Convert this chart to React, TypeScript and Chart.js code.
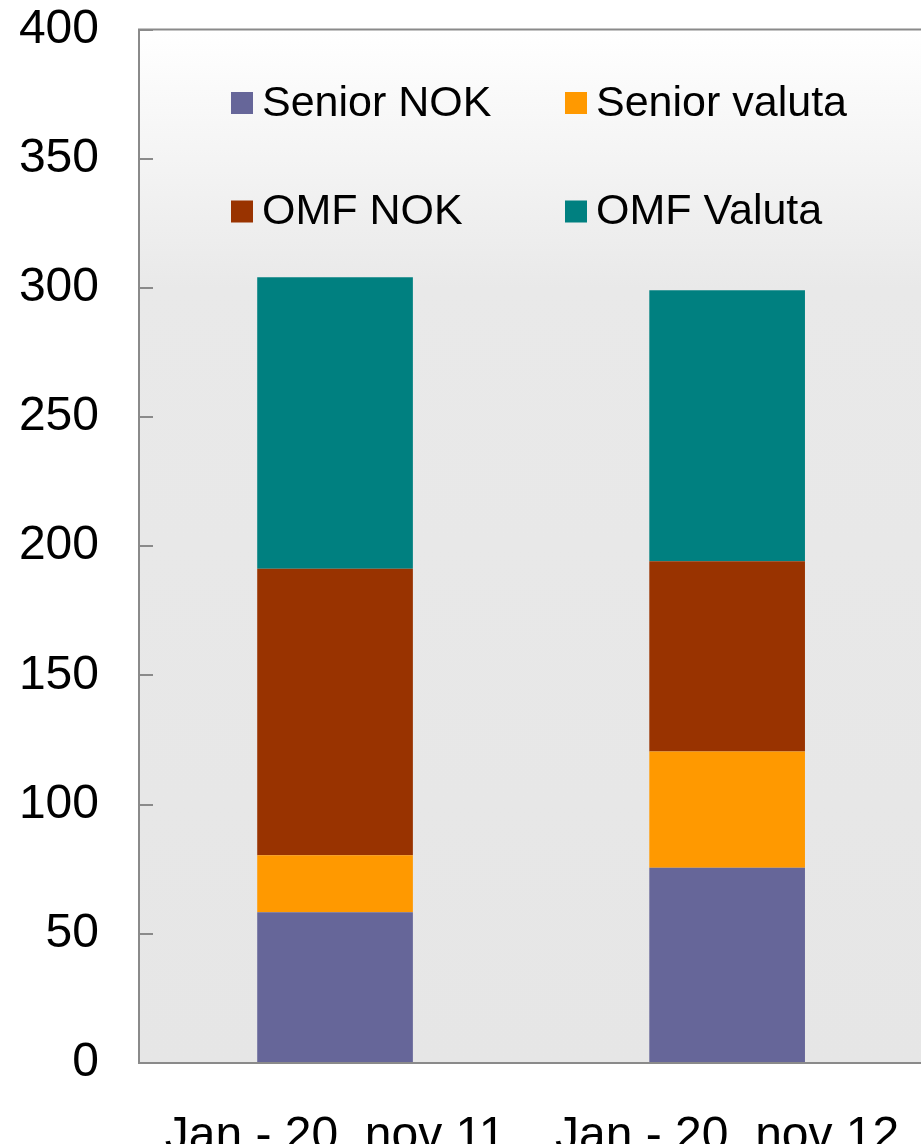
import React, { useEffect, useRef } from "react";
import { Chart, registerables } from "chart.js";

Chart.register(...registerables);

const categories = ["Jan - 20. nov 11", "Jan - 20. nov 12"];
const seriesNames = ["Senior NOK", "Senior valuta", "OMF NOK", "OMF Valuta"];
const seniorNok = [58.3, 75.6];
const seniorValuta = [22.1, 45.0];
const omfNok = [110.9, 73.6];
const omfValuta = [112.8, 104.9];
const seriesColors = ["#666699", "#FF9900", "#993300", "#008080"];
const yMin = 0;
const yMax = 400;
const yStep = 50;

const FONT = "'Liberation Sans', Arial, sans-serif";
const W = 940;
const H = 1180;

const plotDecor = {
  id: "plotDecor",
  beforeDraw(chart: any) {
    const { ctx, chartArea } = chart;
    const { left, top, right, bottom } = chartArea;
    const g = ctx.createLinearGradient(0, top, 0, bottom);
    g.addColorStop(0, "#ffffff");
    g.addColorStop(0.25, "#e9e9e9");
    g.addColorStop(1, "#e6e6e6");
    ctx.save();
    ctx.fillStyle = g;
    ctx.fillRect(left, top, right - left + 20, bottom - top);
    ctx.restore();
  },
  afterDraw(chart: any) {
    const { ctx, chartArea } = chart;
    const { left, top, right } = chartArea;
    ctx.save();
    ctx.strokeStyle = "#8a8a8a";
    ctx.lineWidth = 2;
    ctx.beginPath();
    ctx.moveTo(left - 1, top);
    ctx.lineTo(right + 20, top);
    ctx.stroke();

    // legend in a 2x2 grid inside the plot
    const colX = [92, 426];
    const rowY = [73.5, 182];
    const box = 22;
    ctx.font = `43px ${FONT}`;
    ctx.textBaseline = "middle";
    ctx.textAlign = "left";
    chart.data.datasets.forEach((ds: any, i: number) => {
      const c = i % 2;
      const r = Math.floor(i / 2);
      const x = left + colX[c];
      const y = top + rowY[r];
      ctx.fillStyle = ds.backgroundColor;
      ctx.fillRect(x, y - box / 2, box, box);
      ctx.fillStyle = "#000000";
      ctx.fillText(ds.label, x + 31, y + 1);
    });
    ctx.restore();
  },
};

export default function App() {
  const ref = useRef<HTMLCanvasElement | null>(null);

  useEffect(() => {
    if (!ref.current) return;
    const values = [seniorNok, seniorValuta, omfNok, omfValuta];
    const chart = new Chart(ref.current, {
      type: "bar",
      data: {
        labels: categories,
        datasets: seriesNames.map((name, i) => ({
          label: name,
          data: values[i],
          backgroundColor: seriesColors[i],
          borderWidth: 0,
          barPercentage: 0.397,
          categoryPercentage: 1,
        })),
      },
      options: {
        animation: false,
        responsive: false,
        devicePixelRatio: 1,
        layout: { padding: { top: 29.5, right: 15, left: 0, bottom: 0 } },
        plugins: {
          legend: { display: false },
          tooltip: { enabled: false },
        },
        scales: {
          x: {
            stacked: true,
            grid: { display: false },
            border: { display: true, color: "#8a8a8a", width: 2 },
            ticks: {
              color: "#000000",
              font: { size: 48, family: FONT },
              padding: 37,
              maxRotation: 0,
              autoSkip: false,
            },
            afterFit(s: any) {
              s.height = H - 1063;
            },
          },
          y: {
            stacked: true,
            min: yMin,
            max: yMax,
            grid: {
              display: true,
              drawOnChartArea: false,
              drawTicks: true,
              tickLength: -14,
              color: "#8a8a8a",
              lineWidth: 2,
            },
            border: { display: true, color: "#8a8a8a", width: 2 },
            ticks: {
              stepSize: yStep,
              color: "#000000",
              font: { size: 48, family: FONT },
              padding: 54,
            },
            afterFit(s: any) {
              s.width = 139;
              s.paddingTop = 0;
              s.paddingBottom = 0;
            },
          },
        },
      },
      plugins: [plotDecor],
    });
    return () => chart.destroy();
  }, []);

  return (
    <div
      style={{
        position: "fixed",
        left: 0,
        top: 0,
        width: 921,
        height: 1144,
        overflow: "hidden",
        background: "#ffffff",
      }}
    >
      <canvas
        ref={ref}
        width={W}
        height={H}
        style={{ width: W, height: H, display: "block" }}
      />
    </div>
  );
}
